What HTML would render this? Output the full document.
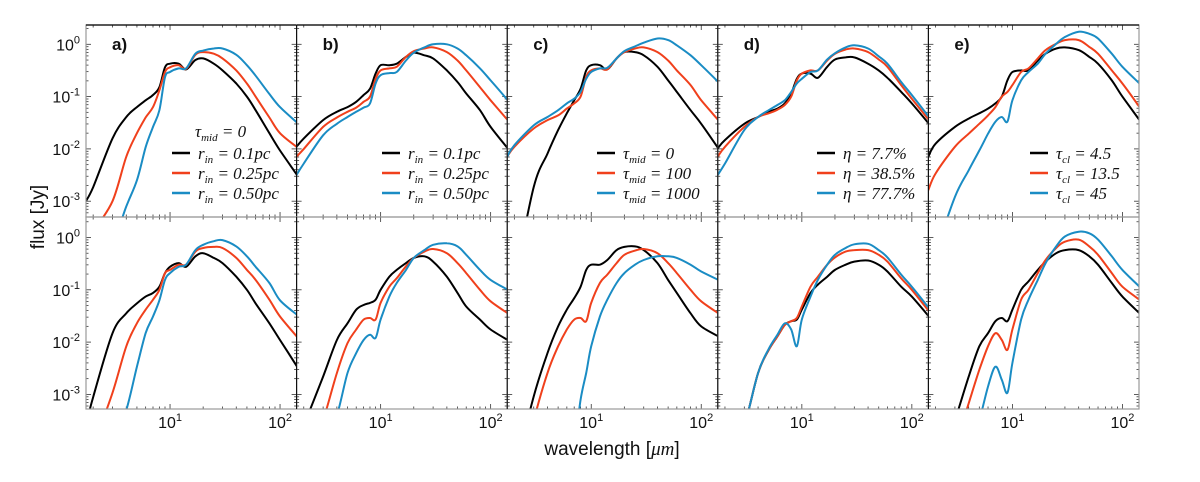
<!DOCTYPE html>
<html><head><meta charset="utf-8"><style>
html,body{margin:0;padding:0;background:#fff;width:1200px;height:482px;overflow:hidden;}
svg{display:block;font-family:"Liberation Sans",sans-serif;}
.lg{font-family:"Liberation Serif",serif;font-style:italic;font-size:17px;fill:#111;}
</style></head><body>
<svg id="chart" width="1200" height="482" viewBox="0 0 1200 482" xmlns="http://www.w3.org/2000/svg">
<g id="panels"></g>
<text x="612" y="455" font-size="19" text-anchor="middle" fill="#111">wavelength [<tspan font-family="Liberation Serif" font-style="italic">μm</tspan>]</text>
<text transform="translate(44,217) rotate(-90)" font-size="19" text-anchor="middle" fill="#111">flux [Jy]</text>
</svg>
<script>
const wavelengths = [1.72,2,3,4,5,6,7,8,9,10,12,14,17,20,25,30,40,50,60,80,100,143];
const panelLetters = ['a)','b)','c)','d)','e)'];
// log10 flux values
const aTopBlack=[-3.0,-2.73,-1.8,-1.39,-1.2,-1.07,-0.97,-0.82,-0.44,-0.37,-0.37,-0.48,-0.3,-0.27,-0.37,-0.5,-0.75,-1.0,-1.26,-1.7,-2.03,-2.5];
const aTopRed=[-4,-3.6,-3.0,-2.15,-1.7,-1.4,-1.2,-0.88,-0.53,-0.44,-0.4,-0.47,-0.2,-0.15,-0.18,-0.27,-0.5,-0.75,-1.0,-1.4,-1.7,-1.97];
const aTopBlue=[-4.5,-4.2,-3.8,-3.1,-2.6,-1.97,-1.58,-1.26,-0.63,-0.53,-0.46,-0.46,-0.18,-0.12,-0.08,-0.08,-0.2,-0.4,-0.6,-0.95,-1.2,-1.5];
const aBotBlack=[-3.6,-3.05,-1.83,-1.45,-1.26,-1.13,-1.06,-0.94,-0.68,-0.56,-0.49,-0.56,-0.36,-0.3,-0.39,-0.49,-0.75,-1.0,-1.26,-1.64,-1.96,-2.47];
const aBotRed=[-4.5,-4,-2.97,-2.08,-1.64,-1.38,-1.19,-1.0,-0.68,-0.62,-0.52,-0.52,-0.27,-0.2,-0.18,-0.2,-0.39,-0.62,-0.81,-1.19,-1.51,-1.9];
const aBotBlue=[-5,-4.6,-4,-3.3,-2.47,-1.83,-1.51,-1.2,-0.81,-0.68,-0.56,-0.52,-0.24,-0.14,-0.07,-0.05,-0.17,-0.36,-0.56,-0.87,-1.2,-1.48];
const bTopBlack=[-1.96,-1.8,-1.45,-1.29,-1.2,-1.1,-0.97,-0.85,-0.56,-0.4,-0.4,-0.37,-0.24,-0.16,-0.21,-0.27,-0.5,-0.72,-0.94,-1.26,-1.58,-1.99];
const bTopRed=[-2.15,-2.0,-1.58,-1.4,-1.29,-1.21,-1.1,-1.0,-0.66,-0.5,-0.46,-0.43,-0.24,-0.13,-0.08,-0.06,-0.15,-0.31,-0.5,-0.82,-1.07,-1.45];
const bTopBlue=[-2.5,-2.28,-1.74,-1.52,-1.39,-1.29,-1.21,-1.13,-0.75,-0.59,-0.55,-0.53,-0.31,-0.16,-0.06,0,0,-0.08,-0.21,-0.46,-0.69,-1.07];
const bBotBlack=[-4,-3.6,-2.66,-1.96,-1.64,-1.38,-1.29,-1.25,-1.19,-1.0,-0.75,-0.62,-0.49,-0.39,-0.36,-0.46,-0.75,-1.06,-1.32,-1.57,-1.76,-1.96];
const bBotRed=[-5,-4.6,-3.5,-2.59,-2.02,-1.76,-1.57,-1.54,-1.57,-1.25,-0.94,-0.78,-0.55,-0.39,-0.27,-0.22,-0.3,-0.49,-0.68,-1.0,-1.22,-1.45];
const bBotBlue=[-5.5,-5,-4,-3.4,-2.59,-2.21,-1.96,-1.86,-1.92,-1.57,-1.13,-0.87,-0.62,-0.39,-0.24,-0.14,-0.11,-0.17,-0.33,-0.62,-0.81,-1.0];
const cTopBlack=[-5,-4.5,-2.73,-2.09,-1.64,-1.32,-1.07,-0.85,-0.5,-0.4,-0.4,-0.48,-0.27,-0.15,-0.15,-0.21,-0.43,-0.69,-0.91,-1.26,-1.52,-1.99];
const cTopRed=[-2.15,-1.96,-1.61,-1.45,-1.36,-1.23,-1.13,-1.0,-0.62,-0.5,-0.46,-0.48,-0.27,-0.15,-0.08,-0.06,-0.15,-0.31,-0.5,-0.78,-1.07,-1.45];
const cTopBlue=[-2.15,-1.93,-1.55,-1.39,-1.26,-1.13,-1.04,-0.91,-0.66,-0.53,-0.46,-0.45,-0.27,-0.13,-0.04,0.03,0.11,0.08,-0.02,-0.21,-0.4,-0.72];
const cBotBlack=[-5,-4.5,-3.04,-2.21,-1.7,-1.38,-1.16,-0.94,-0.62,-0.52,-0.52,-0.43,-0.24,-0.18,-0.17,-0.24,-0.49,-0.81,-1.06,-1.45,-1.7,-1.89];
const cBotRed=[-5.5,-5,-3.5,-2.59,-2.08,-1.76,-1.57,-1.54,-1.6,-1.25,-0.87,-0.71,-0.49,-0.33,-0.25,-0.22,-0.3,-0.49,-0.68,-1.0,-1.22,-1.45];
const cBotBlue=[-8,-7.5,-6.5,-5.5,-4.8,-4.4,-4,-3.1,-2.59,-2.08,-1.51,-1.19,-0.87,-0.68,-0.52,-0.43,-0.36,-0.36,-0.39,-0.52,-0.65,-0.81];
const dTopBlack=[-1.99,-1.83,-1.52,-1.39,-1.29,-1.23,-1.13,-0.94,-0.66,-0.56,-0.56,-0.64,-0.43,-0.29,-0.25,-0.25,-0.37,-0.5,-0.64,-0.91,-1.13,-1.52];
const dTopRed=[-2.15,-1.96,-1.58,-1.39,-1.32,-1.25,-1.16,-1.0,-0.69,-0.56,-0.5,-0.5,-0.31,-0.18,-0.1,-0.08,-0.15,-0.29,-0.43,-0.78,-1.04,-1.45];
const dTopBlue=[-2.5,-2.28,-1.64,-1.39,-1.26,-1.16,-1.07,-0.91,-0.75,-0.66,-0.53,-0.5,-0.29,-0.17,-0.06,-0.02,-0.08,-0.23,-0.37,-0.72,-0.97,-1.39];
const dBotBlack=[-5,-4.6,-3.6,-2.59,-2.15,-1.89,-1.67,-1.6,-1.57,-1.38,-1.06,-0.9,-0.75,-0.62,-0.52,-0.46,-0.44,-0.52,-0.65,-0.94,-1.13,-1.51];
const dBotRed=[-5,-4.6,-3.6,-2.59,-2.15,-1.89,-1.67,-1.6,-1.54,-1.32,-0.94,-0.75,-0.52,-0.38,-0.27,-0.24,-0.24,-0.33,-0.46,-0.78,-1.0,-1.41];
const dBotBlue=[-5,-4.6,-3.6,-2.59,-2.13,-1.86,-1.64,-1.76,-2.08,-1.57,-1.13,-0.81,-0.52,-0.33,-0.2,-0.13,-0.12,-0.24,-0.38,-0.71,-0.94,-1.35];
const eTopBlack=[-2.15,-1.9,-1.58,-1.42,-1.32,-1.23,-1.13,-1.0,-0.69,-0.53,-0.5,-0.5,-0.31,-0.18,-0.08,-0.06,-0.11,-0.24,-0.37,-0.69,-1.0,-1.45];
const eTopRed=[-2.79,-2.47,-1.96,-1.71,-1.52,-1.36,-1.2,-1.0,-0.91,-0.78,-0.53,-0.46,-0.27,-0.11,0.01,0.08,0.08,-0.05,-0.18,-0.5,-0.75,-1.2];
const eTopBlue=[-4.5,-4,-2.92,-2.41,-2.03,-1.71,-1.48,-1.39,-1.48,-1.07,-0.69,-0.53,-0.37,-0.18,0.01,0.14,0.24,0.2,0.11,-0.18,-0.43,-0.75];
const eBotBlack=[-5,-4.6,-3.5,-2.66,-2.08,-1.83,-1.6,-1.54,-1.6,-1.38,-1.0,-0.84,-0.62,-0.46,-0.3,-0.24,-0.24,-0.36,-0.52,-0.87,-1.13,-1.45];
const eBotRed=[-5.5,-5,-4,-3.17,-2.53,-2.08,-1.83,-1.96,-2.15,-1.76,-1.19,-1.0,-0.68,-0.43,-0.2,-0.08,-0.04,-0.17,-0.33,-0.68,-0.94,-1.19];
const eBotBlue=[-7,-6.5,-5,-4.2,-3.5,-2.85,-2.47,-2.72,-2.97,-2.4,-1.57,-1.19,-0.81,-0.49,-0.17,0.02,0.11,0.08,-0.04,-0.36,-0.62,-0.94];
const topSeries=[[aTopBlack,aTopRed,aTopBlue],[bTopBlack,bTopRed,bTopBlue],[cTopBlack,cTopRed,cTopBlue],[dTopBlack,dTopRed,dTopBlue],[eTopBlack,eTopRed,eTopBlue]];
const botSeries=[[aBotBlack,aBotRed,aBotBlue],[bBotBlack,bBotRed,bBotBlue],[cBotBlack,cBotRed,cBotBlue],[dBotBlack,dBotRed,dBotBlue],[eBotBlack,eBotRed,eBotBlue]];
const yTickExps=[0,-1,-2,-3];
const xTickExps=[1,2];
const legendTexts=[
 [['r','in','= 0.1pc'],['r','in','= 0.25pc'],['r','in','= 0.50pc']],
 [['r','in','= 0.1pc'],['r','in','= 0.25pc'],['r','in','= 0.50pc']],
 [['τ','mid','= 0'],['τ','mid','= 100'],['τ','mid','= 1000']],
 [['η','','= 7.7%'],['η','','= 38.5%'],['η','','= 77.7%']],
 [['τ','cl','= 4.5'],['τ','cl','= 13.5'],['τ','cl','= 45']]
];
const legendX=[172,382,597,817,1030];
const colors=['#000000','#f0401c','#1a8cc4'];
const seriesNames=['black','red','blue'];

const NS='http://www.w3.org/2000/svg';
const root=document.getElementById('panels');
const PW=210.6, L0=86, XMIN=0.236, XS=110, DEC=52.3;
const rows=[{top:25,zero:44.3},{top:217,zero:237.5}];
function xScale(p,lam){return L0+p*PW+(Math.log10(lam)-XMIN)*XS;}
function yScale(r,v){return rows[r].zero-v*DEC;}
function mk(tag,attrs,parent){const e=document.createElementNS(NS,tag);for(const k in attrs)e.setAttribute(k,attrs[k]);(parent||root).appendChild(e);return e;}
function pathFrom(pts){
  let d='M'+pts[0][0].toFixed(1)+','+pts[0][1].toFixed(1);
  for(let i=0;i<pts.length-1;i++){
    const p0=pts[Math.max(0,i-1)],p1=pts[i],p2=pts[i+1],p3=pts[Math.min(pts.length-1,i+2)];
    const c1x=p1[0]+(p2[0]-p0[0])/6,c1y=p1[1]+(p2[1]-p0[1])/6;
    const c2x=p2[0]-(p3[0]-p1[0])/6,c2y=p2[1]-(p3[1]-p1[1])/6;
    d+=' C'+c1x.toFixed(1)+','+c1y.toFixed(1)+' '+c2x.toFixed(1)+','+c2y.toFixed(1)+' '+p2[0].toFixed(1)+','+p2[1].toFixed(1);
  }
  return d;
}
const defs=mk('defs',{});
for(let p=0;p<5;p++){
  for(let r=0;r<2;r++){
    const left=L0+p*PW, top=rows[r].top;
    const cp=mk('clipPath',{id:'cp'+p+r},defs);
    mk('rect',{x:left,y:top,width:PW,height:192},cp);
    const g=mk('g',{});
    
    
    for(let e=-4;e<=0;e++){for(let m=1;m<10;m++){
      const v=e+Math.log10(m); const y=yScale(r,v);
      if(y<top||y>top+192)continue;
      const len=m===1?5:2.5;
      mk('line',{x1:left,x2:left+len,y1:y,y2:y,stroke:'#333','stroke-width':0.8},g);
      mk('line',{x1:left+PW,x2:left+PW-len,y1:y,y2:y,stroke:'#333','stroke-width':0.8},g);
    }}
    for(let e=0;e<=2;e++){for(let m=1;m<10;m++){
      const lam=m*Math.pow(10,e); const x=xScale(p,lam);
      if(x<left||x>left+PW)continue;
      const len=m===1?5:2.5;
      mk('line',{x1:x,x2:x,y1:top+192,y2:top+192-len,stroke:'#333','stroke-width':0.8},g);
      mk('line',{x1:x,x2:x,y1:top,y2:top+len,stroke:'#333','stroke-width':0.8},g);
    }}
    const series=r?botSeries[p]:topSeries[p];
    const cg=mk('g',{'clip-path':'url(#cp'+p+r+')'},g);
    series.forEach((vals,s)=>{
      const pts=wavelengths.map((lam,i)=>[xScale(p,lam),yScale(r,vals[i])]);
      const path=mk('path',{d:pathFrom(pts),fill:'none',stroke:colors[s],'stroke-width':2,'stroke-linejoin':'round'},cg);
      
      
    });
    mk('rect',{x:left,y:top,width:PW,height:192,fill:'none',stroke:'#999','stroke-width':1.2},g);
    if(r===0) mk('line',{x1:left,x2:left+PW,y1:top,y2:top,stroke:'#000','stroke-width':1.2},g);
    if(p>0) mk('line',{x1:left,x2:left,y1:top,y2:top+192,stroke:'#000','stroke-width':1},g);
  }
  const lab=mk('text',{x:L0+p*PW+26,y:50,'font-size':17,'font-weight':'bold',fill:'#111'});
  lab.textContent=panelLetters[p];
  
  
  xTickExps.forEach(e=>{
    const t=mk('text',{x:xScale(p,Math.pow(10,e)),y:428,'font-size':16,'text-anchor':'middle',fill:'#111'});
    t.innerHTML='10<tspan dy="-7" font-size="11">'+e+'</tspan>';
    
    
  });
  const lg=mk('g',{});
  
  
  legendTexts[p].forEach((lt,i)=>{
    const y=153+i*20;
    mk('line',{x1:legendX[p],x2:legendX[p]+18,y1:y,y2:y,stroke:colors[i],'stroke-width':2.5},lg);
    const t=mk('text',{x:legendX[p]+26,y:y+6,class:'lg'},lg);
    t.innerHTML=lt[0]+(lt[1]?'<tspan dy="4" font-size="11">'+lt[1]+'</tspan><tspan dy="-4"> </tspan>':' ')+lt[2];
    
    
  });
  if(p===0){const t=mk('text',{x:195,y:137,class:'lg'},lg);t.innerHTML='τ<tspan dy="4" font-size="11">mid</tspan><tspan dy="-4"> = 0</tspan>';
    
    }
}
for(let r=0;r<2;r++){yTickExps.forEach(e=>{
  const t=mk('text',{x:80,y:yScale(r,e)+6,'font-size':16,'text-anchor':'end',fill:'#111'});
  t.innerHTML='10<tspan dy="-7" font-size="11">'+e+'</tspan>';
  
  
});}
</script>
</body></html>
